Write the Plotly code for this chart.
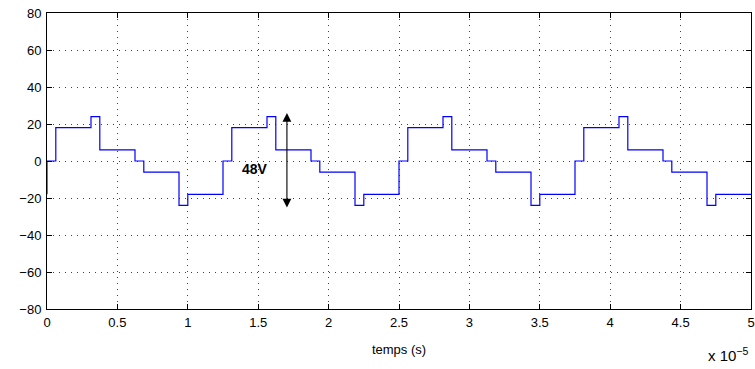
import plotly.graph_objects as go

# time breakpoints in units of 1e-5 s, and voltage level held from each breakpoint
t_units = [0, 0, 0.0625, 0.3125, 0.375, 0.625, 0.6875, 0.9375, 1.0, 1.25,
           1.3125, 1.5625, 1.625, 1.875, 1.9375, 2.1875, 2.25, 2.5,
           2.5625, 2.8125, 2.875, 3.125, 3.1875, 3.4375, 3.5, 3.75,
           3.8125, 4.0625, 4.125, 4.375, 4.4375, 4.6875, 4.75, 5.0]
voltage = [-18, 0, 18, 24, 6, 0, -6, -24, -18, 0,
           18, 24, 6, 0, -6, -24, -18, 0,
           18, 24, 6, 0, -6, -24, -18, 0,
           18, 24, 6, 0, -6, -24, -18, -18]

x_ticks = [0, 0.5, 1, 1.5, 2, 2.5, 3, 3.5, 4, 4.5, 5]
x_tick_labels = ["0", "0.5", "1", "1.5", "2", "2.5", "3", "3.5", "4", "4.5", "5"]
y_ticks = [-80, -60, -40, -20, 0, 20, 40, 60, 80]
y_tick_labels = ["\u221280", "\u221260", "\u221240", "\u221220", "0", "20", "40", "60", "80"]

scale = 1e-5
t = [v * scale for v in t_units]

fig = go.Figure()
fig.add_trace(go.Scatter(x=t, y=voltage, mode="lines", line_shape="hv",
                         line=dict(color="#0000ff", width=1.2), showlegend=False))

font = dict(family="Liberation Sans, Arial, sans-serif", size=13, color="black")

axis_common = dict(showline=True, linecolor="black", linewidth=1, mirror="ticks",
                   ticks="inside", ticklen=5, tickcolor="black",
                   showgrid=True, gridcolor="rgba(0,0,0,0.75)", gridwidth=1,
                   griddash="1px,5px", zeroline=False, tickfont=font,
                   ticklabeloverflow="allow", automargin=False)

fig.update_xaxes(range=[0, 5 * scale], tickvals=[v * scale for v in x_ticks],
                 ticktext=x_tick_labels, ticklabelstandoff=1,
                 title=dict(text="temps (s)", font=font, standoff=16), **axis_common)
fig.update_yaxes(range=[-80, 80], tickvals=y_ticks, ticktext=y_tick_labels,
                 ticklabelstandoff=2, **axis_common)

# double arrow (48V)
fig.add_annotation(x=1.704 * scale, y=26, ax=1.704 * scale, ay=-26,
                   xref="x", yref="y", axref="x", ayref="y",
                   text="", showarrow=True, arrowhead=2, startarrowhead=2,
                   arrowside="end+start", arrowsize=1.6, startarrowsize=1.6,
                   arrowwidth=1.1, arrowcolor="black")
fig.add_annotation(x=1.476 * scale, y=-4.5, xref="x", yref="y", text="<b>48V</b>",
                   showarrow=False, font=dict(family="Liberation Sans, Arial, sans-serif",
                                              size=14, color="black"))
fig.add_annotation(x=0.998, y=-0.155, xref="paper", yref="paper", xanchor="right",
                   yanchor="middle", text="x 10<sup>\u22125</sup>", showarrow=False,
                   font=dict(family="Liberation Sans, Arial, sans-serif", size=15,
                             color="black"))

fig.update_layout(width=755, height=369, plot_bgcolor="white", paper_bgcolor="white",
                  margin=dict(l=47, r=4, t=13, b=60), font=font)

# remove the default page margin so the figure fills the window exactly
fig.write_html("out.html", config={"displayModeBar": False},
               post_script="document.body.style.margin='0';"
                           "document.body.style.overflow='hidden';")
